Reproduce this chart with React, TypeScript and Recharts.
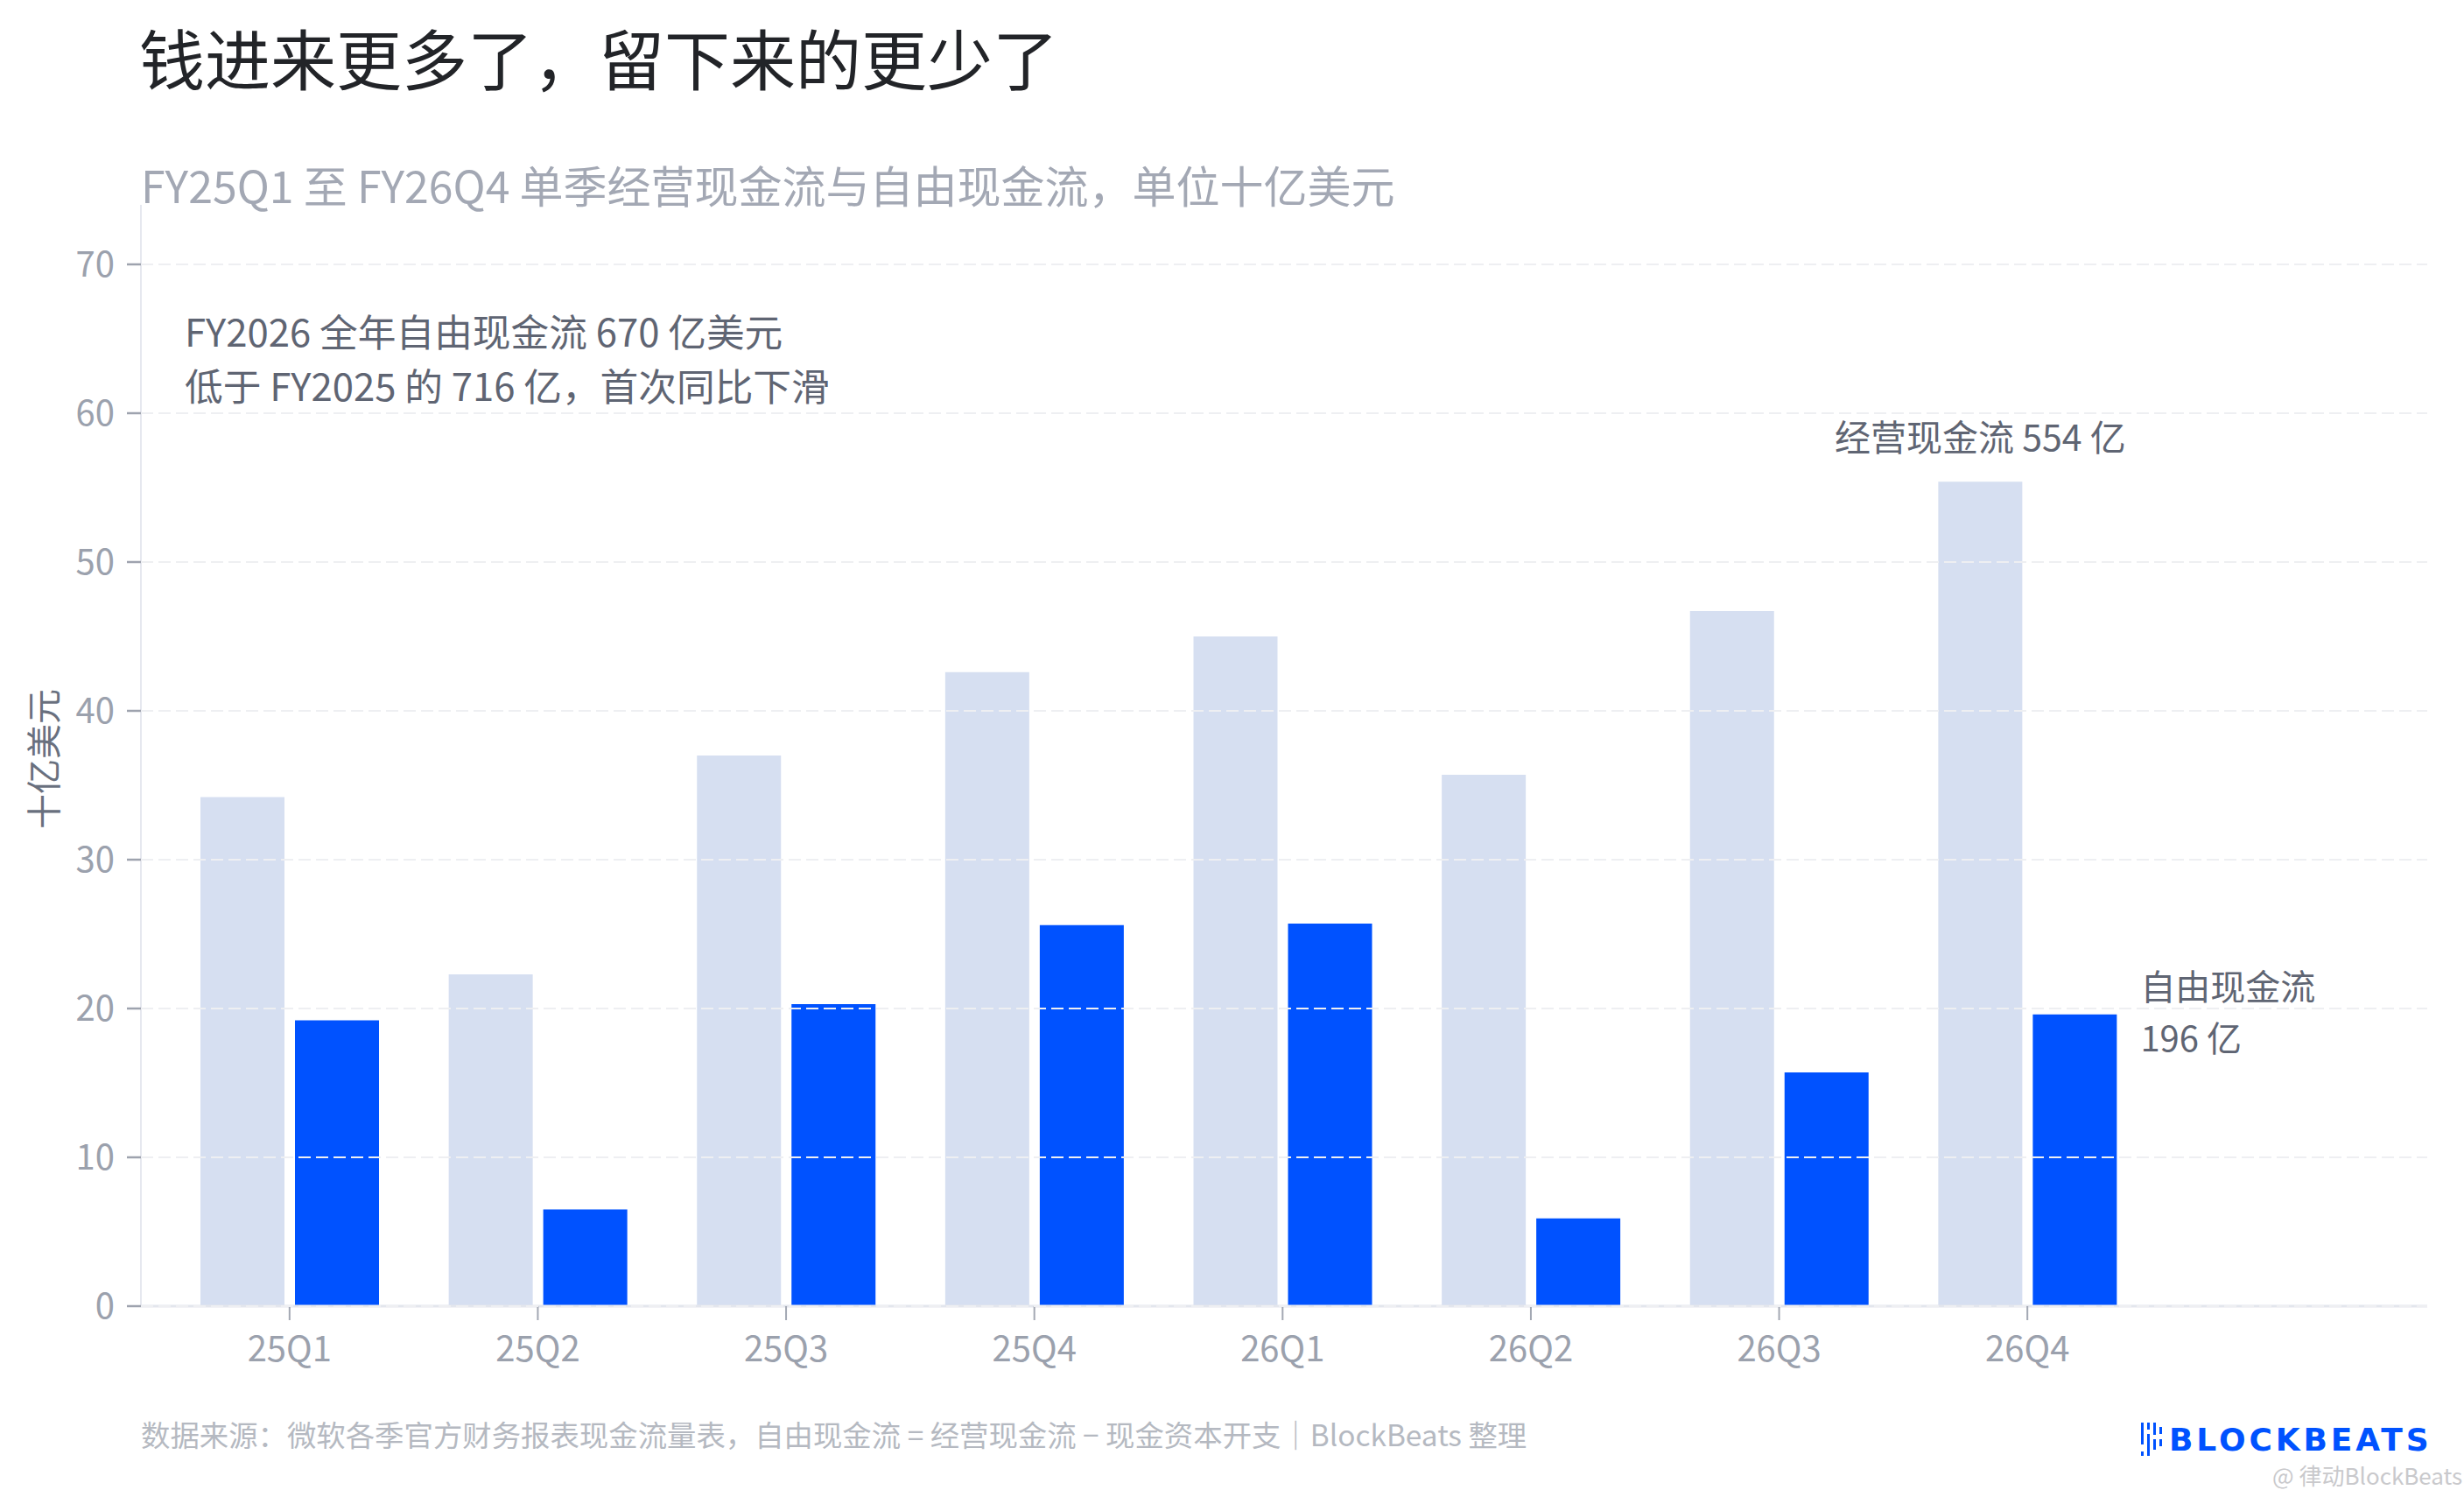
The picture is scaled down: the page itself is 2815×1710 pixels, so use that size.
import React from 'react';
import { BarChart, Bar, XAxis, YAxis, CartesianGrid, LabelList } from 'recharts';

const quarters = ['25Q1', '25Q2', '25Q3', '25Q4', '26Q1', '26Q2', '26Q3', '26Q4'];
const operatingCashFlow = [34.2, 22.3, 37.0, 42.6, 45.0, 35.7, 46.7, 55.4];
const freeCashFlow = [19.2, 6.5, 20.3, 25.6, 25.7, 5.9, 15.7, 19.6];
const yTicks = [0, 10, 20, 30, 40, 50, 60, 70];
const ocfEndLabels = ['', '', '', '', '', '', '', '经营现金流 554 亿'];
const fcfEndLabels = ['', '', '', '', '', '', '', '自由现金流|196 亿'];

const titleText = '钱进来更多了，留下来的更少了';
const subtitleText = 'FY25Q1 至 FY26Q4 单季经营现金流与自由现金流，单位十亿美元';
const noteLines = ['FY2026 全年自由现金流 670 亿美元', '低于 FY2025 的 716 亿，首次同比下滑'];
const yAxisTitle = '十亿美元';
const sourceText = '数据来源：微软各季官方财务报表现金流量表，自由现金流 = 经营现金流 − 现金资本开支｜BlockBeats 整理';
const logoText = 'BLOCKBEATS';
const watermarkText = '@ 律动BlockBeats';

const data = quarters.map((q, i) => ({
  q,
  ocf: operatingCashFlow[i],
  fcf: freeCashFlow[i],
  ocfLabel: ocfEndLabels[i] || undefined,
  fcfLabel: fcfEndLabels[i] || undefined,
}));

const FONT = '"Noto Sans CJK SC", "Noto Sans", sans-serif';
const LIGHT = '#D6DFF1';
const BLUE = '#0052FF';
const NOTE = '#5f6573';

const getBox = (p: any) => {
  const vb = p.viewBox || {};
  return {
    x: Number(p.x ?? vb.x),
    y: Number(p.y ?? vb.y),
    width: Number(p.width ?? vb.width),
  };
};

const OcfLabel = (p: any) => {
  if (!p.value) return null;
  const { x, y, width } = getBox(p);
  return (
    <text x={x + width / 2} y={y - 53} textAnchor="middle" dominantBaseline="central"
      fill={NOTE} fontSize={41} fontFamily={FONT}>{p.value}</text>
  );
};

const FcfLabel = (p: any) => {
  if (!p.value) return null;
  const { x, y, width } = getBox(p);
  const parts = String(p.value).split('|');
  const lx = x + width + 27;
  return (
    <g>
      <text x={lx} y={y - 34} fill={NOTE} fontSize={40} fontFamily={FONT} dominantBaseline="central">{parts[0]}</text>
      <text x={lx} y={y + 25} fill={NOTE} fontSize={40} fontFamily={FONT} dominantBaseline="central">{parts[1]}</text>
    </g>
  );
};

const abs = (style: React.CSSProperties): React.CSSProperties => ({
  position: 'absolute',
  whiteSpace: 'nowrap',
  fontFamily: FONT,
  margin: 0,
  ...style,
});

export default function App() {
  return (
    <div style={{ position: 'absolute', left: 0, top: 0, width: 2815, height: 1710, background: '#ffffff', overflow: 'hidden' }}>
      <BarChart
        width={2815}
        height={1710}
        data={data}
        margin={{ top: 234, right: 42, bottom: 118, left: 0 }}
        barGap={12}
      >
        <XAxis
          dataKey="q"
          type="category"
          height={100}
          padding={{ left: 28, right: 315 }}
          tickSize={16}
          tickMargin={19}
          interval={0}
          axisLine={{ stroke: '#e3e6ed', strokeWidth: 3 }}
          tickLine={{ stroke: '#a3a8b3', strokeWidth: 2 }}
          tick={{ fill: '#9ba1ad', fontSize: 40, fontFamily: FONT }}
        />
        <YAxis
          type="number"
          domain={[0, 74]}
          ticks={yTicks}
          interval={0}
          width={161}
          tickSize={16}
          tickMargin={14}
          axisLine={{ stroke: '#e6e8ef', strokeWidth: 2 }}
          tickLine={{ stroke: '#9ea3ae', strokeWidth: 2.5 }}
          tick={{ fill: '#9ba1ad', fontSize: 40, fontFamily: FONT }}
        />
        <Bar dataKey="ocf" fill={LIGHT} barSize={96} isAnimationActive={false}>
          <LabelList dataKey="ocfLabel" content={OcfLabel} />
        </Bar>
        <Bar dataKey="fcf" fill={BLUE} barSize={96} isAnimationActive={false}>
          <LabelList dataKey="fcfLabel" content={FcfLabel} />
        </Bar>
        <CartesianGrid
          vertical={false}
          horizontalValues={yTicks}
          stroke="#eeeff2"
          strokeWidth={2}
          strokeDasharray="14 6"
          {...({ zIndex: 1000 } as any)}
        />
      </BarChart>

      <div style={abs({ left: 159, top: 27, fontSize: 75, lineHeight: '75px', color: '#222428' })}>{titleText}</div>
      <div style={abs({ left: 161, top: 185, fontSize: 50, lineHeight: '50px', color: '#a3a8b4' })}>{subtitleText}</div>
      <div style={abs({ left: 211, top: 355, fontSize: 43.7, lineHeight: '44px', color: NOTE })}>{noteLines[0]}</div>
      <div style={abs({ left: 211, top: 417, fontSize: 43.7, lineHeight: '44px', color: NOTE })}>{noteLines[1]}</div>
      <div style={abs({ left: 48, top: 867, fontSize: 40, lineHeight: '40px', color: '#69707e', transform: 'translate(-50%, -50%) rotate(-90deg)' })}>{yAxisTitle}</div>
      <div style={abs({ left: 161, top: 1621, fontSize: 33.4, lineHeight: '34px', color: '#b5b9c1' })}>{sourceText}</div>

      <svg style={{ position: 'absolute', left: 2444, top: 1622, width: 32, height: 44 }} viewBox="0 0 32 44">
        <rect x={2} y={3} width={3} height={25} fill={BLUE} />
        <rect x={2} y={36} width={3} height={5} fill={BLUE} />
        <rect x={9} y={3} width={3} height={8} fill={BLUE} />
        <rect x={9} y={16} width={3} height={25} fill={BLUE} />
        <rect x={16} y={3} width={3} height={14} fill={BLUE} />
        <rect x={16} y={22} width={3} height={12} fill={BLUE} />
        <rect x={23} y={8} width={3} height={8} fill={BLUE} />
        <rect x={23} y={22} width={3} height={8} fill={BLUE} />
      </svg>
      <div style={abs({ left: 2478, top: 1627, fontSize: 36, lineHeight: '36px', color: BLUE, fontFamily: '"DejaVu Sans", sans-serif', fontWeight: 700, letterSpacing: 3.9 })}>{logoText}</div>
      <div style={abs({ left: 2596, top: 1672, fontSize: 26, lineHeight: '26px', color: '#c9c9cc' })}>{watermarkText}</div>
    </div>
  );
}
